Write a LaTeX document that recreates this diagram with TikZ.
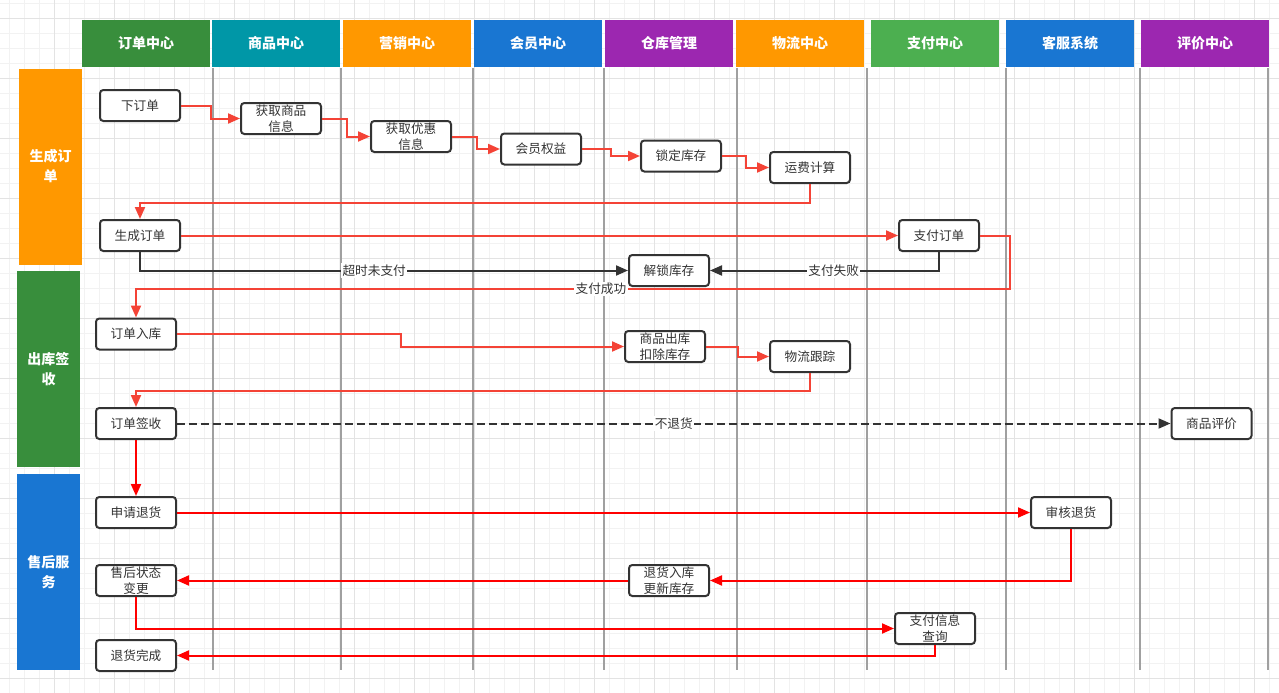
\documentclass[tikz,border=0pt]{standalone}
\usepackage{fontspec}
\setmainfont{Noto Sans CJK SC}
\usetikzlibrary{arrows.meta}
\definecolor{cDkGreen}{HTML}{388E3C}
\definecolor{cTeal}{HTML}{0097A7}
\definecolor{cOrange}{HTML}{FF9800}
\definecolor{cBlue}{HTML}{1976D2}
\definecolor{cPurple}{HTML}{9C27B0}
\definecolor{cGreen}{HTML}{4CAF50}
\definecolor{cFlow}{HTML}{F44336}
\definecolor{cRet}{HTML}{FF0000}
\definecolor{cInk}{HTML}{333333}
\definecolor{cLane}{HTML}{A0A0A0}
\definecolor{cGridA}{HTML}{F2F2F2}
\definecolor{cGridB}{HTML}{E3E3E3}

\tikzset{
  colhead/.style={fill=#1,text=white,font=\bfseries\fontsize{10.5}{12}\selectfont,
    minimum width=96pt,minimum height=35.25pt,inner sep=0pt},
  phase/.style={fill=#1,text=white,font=\bfseries\fontsize{10.5}{15}\selectfont,
    minimum width=47.25pt,minimum height=147pt,inner sep=0pt,align=center},
  task/.style={draw=cInk,line width=1.5pt,fill=white,rounded corners=2.5pt,
    minimum width=60pt,minimum height=23.25pt,inner sep=0pt,align=center,
    text=cInk,font=\fontsize{9.5}{12}\selectfont},
  flow/.style={draw=cFlow,line width=1.5pt,-{Triangle[length=9pt,width=7.5pt]}},
  retflow/.style={flow,draw=cRet},
  inkflow/.style={flow,draw=cInk},
  lbl/.style={fill=white,inner sep=1pt,text=cInk,font=\fontsize{9.5}{10}\selectfont},
  laneline/.style={draw=cLane,line width=1.5pt}
}

\begin{document}
\begin{tikzpicture}[x=0.75pt,y=-0.75pt]
  \useasboundingbox (0,0) rectangle (1279,693);
  \fill[white] (0,0) rectangle (1279,693);
  % background grid
  \foreach \i in {0,...,84}
    \draw[cGridA,line width=0.75pt] ({9.3+15*\i},0) -- ({9.3+15*\i},693);
  \foreach \j in {0,...,45}
    \draw[cGridA,line width=0.75pt] (0,{3.3+15*\j}) -- (1279,{3.3+15*\j});
  \foreach \i in {0,...,20}
    \draw[cGridB,line width=0.75pt] ({54.3+60*\i},0) -- ({54.3+60*\i},693);
  \foreach \j in {0,...,11}
    \draw[cGridB,line width=0.75pt] (0,{18.3+60*\j}) -- (1279,{18.3+60*\j});

  % column heads
  \node[colhead=cDkGreen] (hOrder) at (146,43.5) {订单中心};
  \node[colhead=cTeal] (hGoods) at (276,43.5) {商品中心};
  \node[colhead=cOrange] (hPromo) at (407,43.5) {营销中心};
  \node[colhead=cBlue] (hMember) at (538,43.5) {会员中心};
  \node[colhead=cPurple] (hStore) at (669,43.5) {仓库管理};
  \node[colhead=cOrange] (hShip) at (800,43.5) {物流中心};
  \node[colhead=cGreen] (hPay) at (935,43.5) {支付中心};
  \node[colhead=cBlue] (hService) at (1070,43.5) {客服系统};
  \node[colhead=cPurple] (hReview) at (1205,43.5) {评价中心};

  % phases
  \node[phase=cOrange] (pCreate) at (50.5,166.5) {生成订\\单};
  \node[phase=cDkGreen] (pShip) at (48.5,369) {出库签\\收};
  \node[phase=cBlue] (pAfter) at (48.5,572) {售后服\\务};

  % lane lines
  \foreach \lx in {213,341,473,604,737,867,1006,1140,1268}
    \draw[laneline] (\lx,68) -- (\lx,670);

  % tasks
  \node[task] (order) at (140,105.5) {下订单};
  \node[task] (goods) at (281,118.5) {获取商品\\信息};
  \node[task] (promo) at (411,136.5) {获取优惠\\信息};
  \node[task] (member) at (541,149) {会员权益};
  \node[task] (lock) at (681,156) {锁定库存};
  \node[task] (fee) at (810,167.5) {运费计算};
  \node[task] (create) at (140,235.5) {生成订单};
  \node[task] (pay) at (939,235.5) {支付订单};
  \node[task] (unlock) at (669,270.5) {解锁库存};
  \node[task] (stockin) at (136,334) {订单入库};
  \node[task] (out) at (665,346.5) {商品出库\\扣除库存};
  \node[task] (track) at (810,356.5) {物流跟踪};
  \node[task] (sign) at (136,423.5) {订单签收};
  \node[task] (review) at (1211.5,423.5) {商品评价};
  \node[task] (apply) at (136,512.5) {申请退货};
  \node[task] (audit) at (1071,512.5) {审核退货};
  \node[task] (status) at (136,580.5) {售后状态\\变更};
  \node[task] (back) at (669,580.5) {退货入库\\更新库存};
  \node[task] (payq) at (935,628.5) {支付信息\\查询};
  \node[task] (done) at (136,655.5) {退货完成};

  % flows
  \draw[flow] (order.east) -- ++(30,0) |- (goods.west);
  \draw[flow] (goods.east) -- ++(25,0) |- (promo.west);
  \draw[flow] (promo.east) -- ++(24.5,0) |- (member.west);
  \draw[flow] (member.east) -- ++(29,0) |- (lock.west);
  \draw[flow] (lock.east) -- ++(24,0) |- (fee.west);
  \draw[flow] (fee.south) -- ++(0,18.5) -| (create.north);
  \draw[flow] (create.east) -- (pay.west);
  \draw[inkflow] (create.south) |- (unlock.west) node[lbl,pos=0.74] {超时未支付};
  \draw[inkflow] (pay.south) |- (unlock.east) node[lbl,pos=0.73] {支付失败};
  \draw[flow] (pay.east) -| ++(30,53.5) -| (stockin.north) node[lbl,pos=0.234] {支付成功};
  \draw[flow] (stockin.east) -- ++(224,0) |- (out.west);
  \draw[flow] (out.east) -- ++(32,0) |- (track.west);
  \draw[flow] (track.south) -- ++(0,18) -| (sign.north);
  \draw[inkflow,dash pattern=on 6pt off 3pt] (sign.east) -- (review.west)
    node[lbl,pos=0.5] {不退货};
  \draw[retflow] (sign.south) -- (apply.north);
  \draw[retflow] (apply.east) -- (audit.west);
  \draw[retflow] (audit.south) |- (back.east);
  \draw[retflow] (back.west) -- (status.east);
  \draw[retflow] (status.south) |- (payq.west);
  \draw[retflow] (payq.south) |- (done.east);
\end{tikzpicture}
\end{document}
